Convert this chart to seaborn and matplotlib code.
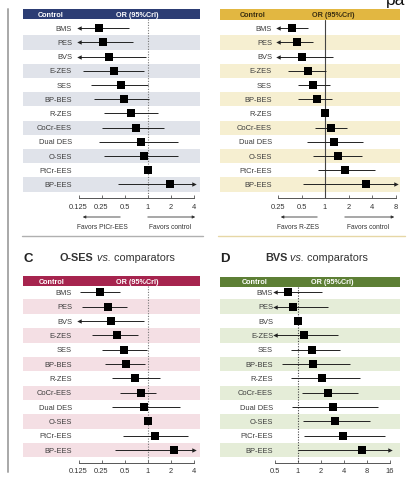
import matplotlib
matplotlib.use("Agg")
import matplotlib.pyplot as plt
import matplotlib.transforms as mtransforms
from matplotlib.patches import FancyArrowPatch
from matplotlib.lines import Line2D
from matplotlib.text import Annotation
from matplotlib.ticker import NullLocator
import numpy as np
import pandas as pd
import seaborn as sns

sns.set_theme(style="white")
plt.rcParams["font.family"] = ["Liberation Sans", "DejaVu Sans"]

# ---- data -------------------------------------------------------------
stents = ["BMS", "PES", "BVS", "E-ZES", "SES", "BP-BES", "R-ZES",
          "CoCr-EES", "Dual DES", "O-SES", "PtCr-EES", "BP-EES"]

# A: PtCr-EES vs. comparators
a_or = [0.23, 0.26, 0.31, 0.36, 0.45, 0.49, 0.61, 0.70, 0.82, 0.90, 1.00, 1.96]
a_lo = [0.10, 0.11, 0.12, 0.145, 0.18, 0.20, 0.27, 0.25, 0.23, 0.27, 1.00, 0.41]
a_hi = [0.57, 0.65, 0.95, 0.90, 1.00, 1.05, 1.36, 1.64, 2.50, 2.50, 1.00, 5.00]

# B: R-ZES vs. comparators
b_or = [0.38, 0.44, 0.51, 0.61, 0.70, 0.79, 1.00, 1.19, 1.30, 1.47, 1.80, 3.35]
b_lo = [0.20, 0.21, 0.22, 0.34, 0.45, 0.45, 1.00, 0.74, 0.59, 0.70, 0.81, 0.52]
b_hi = [0.61, 0.70, 1.27, 1.03, 1.16, 1.23, 1.00, 1.91, 3.07, 2.98, 4.40, 10.0]

# C: O-SES vs. comparators
c_or = [0.24, 0.30, 0.33, 0.40, 0.49, 0.52, 0.69, 0.82, 0.90, 1.00, 1.25, 2.22]
c_lo = [0.13, 0.14, 0.11, 0.19, 0.25, 0.28, 0.34, 0.44, 0.34, 1.00, 0.48, 0.38]
c_hi = [0.44, 0.54, 0.90, 0.75, 0.98, 0.93, 1.46, 1.30, 2.66, 1.00, 3.40, 5.00]

# D: BVS vs. comparators
d_or = [0.74, 0.86, 1.00, 1.20, 1.52, 1.57, 2.06, 2.47, 2.87, 3.05, 3.90, 6.90]
d_lo = [0.40, 0.42, 1.00, 0.45, 0.81, 0.62, 0.81, 1.13, 0.84, 1.16, 1.20, 1.00]
d_hi = [2.06, 2.47, 1.00, 3.30, 3.50, 4.80, 6.50, 6.10, 11.0, 8.80, 13.8, 20.0]

a_ticks = [0.125, 0.25, 0.5, 1, 2, 4]
a_tick_labels = ["0.125", "0.25", "0.5", "1", "2", "4"]
b_ticks = [0.25, 0.5, 1, 2, 4, 8]
b_tick_labels = ["0.25", "0.5", "1", "2", "4", "8"]
d_ticks = [0.5, 1, 2, 4, 8, 16]
d_tick_labels = ["0.5", "1", "2", "4", "8", "16"]

# ---- figure -----------------------------------------------------------
W, H = 411, 481
fig = plt.figure(figsize=(W / 100, H / 100), dpi=100)
fig.patch.set_facecolor("white")


def fx(x):
    return x / W


def fy(y):
    return 1 - y / H


panels = [
    dict(or_=a_or, lo=a_lo, hi=a_hi, ticks=a_ticks, tlabels=a_tick_labels,
         L=23, R=200, y0=29.2, s=14.2, axis_y=199.3, x1=147.5, k=23.0,
         hdr=(10, 20), lab_x=72, ctrl_x=51, or_x=137,
         hdr_color="#2c3d74", hdr_text="white", shade="#e0e3ea",
         ref=dict(ls=(0, (1, 1.4)), color="#777777", lw=0.8),
         favors=("Favors PtCr-EES", 102, (123, 80), (145, 198), 170)),
    dict(or_=b_or, lo=b_lo, hi=b_hi, ticks=b_ticks, tlabels=b_tick_labels,
         L=220, R=400, y0=29.2, s=14.2, axis_y=199.0, x1=325.0, k=23.5,
         hdr=(10, 21), lab_x=272, ctrl_x=253, or_x=333,
         hdr_color="#e2b741", hdr_text="#3a2e10", shade="#f6efd1",
         ref=dict(ls="-", color="#444444", lw=0.8),
         favors=("Favors R-ZES", 298, (320, 278), (342, 397), 368)),
    dict(or_=c_or, lo=c_lo, hi=c_hi, ticks=a_ticks, tlabels=a_tick_labels,
         L=23, R=200, y0=293.3, s=14.35, axis_y=463.5, x1=147.5, k=23.0,
         hdr=(277, 287), lab_x=72, ctrl_x=52, or_x=137,
         hdr_color="#a6244e", hdr_text="white", shade="#f4dfe4",
         ref=dict(ls=(0, (1, 1.4)), color="#777777", lw=0.8),
         favors=None),
    dict(or_=d_or, lo=d_lo, hi=d_hi, ticks=d_ticks, tlabels=d_tick_labels,
         L=220, R=400, y0=293.3, s=14.35, axis_y=463.5, x1=298.0, k=23.0,
         hdr=(278, 288), lab_x=273, ctrl_x=255, or_x=332,
         hdr_color="#5d7f35", hdr_text="white", shade="#e5edd8",
         ref=dict(ls=(0, (1, 1.4)), color="#444444", lw=0.8),
         favors=None),
]

label_fs = 5.4
for p in panels:
    top_px = p["y0"] - 1.5 * p["s"]
    ybot = (p["axis_y"] - p["y0"]) / p["s"]
    ax = fig.add_axes([fx(p["L"]), fy(p["axis_y"]),
                       (p["R"] - p["L"]) / W, (p["axis_y"] - top_px) / H])
    ax.set_facecolor("none")
    ax.set_xscale("log", base=2)
    xmin = 2 ** ((p["L"] - p["x1"]) / p["k"])
    xmax = 2 ** ((p["R"] - p["x1"]) / p["k"])
    lo_lim, hi_lim = p["ticks"][0], p["ticks"][-1]

    # alternating row bands
    for i in range(len(stents)):
        if i % 2 == 1:
            ax.axhspan(i - 0.5, i + 0.5, color=p["shade"], lw=0, zorder=0)

    # header bar
    h0 = (p["hdr"][0] - p["y0"]) / p["s"]
    h1 = (p["hdr"][1] - p["y0"]) / p["s"]
    ax.axhspan(h0, h1, color=p["hdr_color"], lw=0, zorder=1)
    blend = mtransforms.blended_transform_factory(ax.transAxes, ax.transData)
    hmid = (h0 + h1) / 2
    span = p["R"] - p["L"]
    ax.text((p["ctrl_x"] - p["L"]) / span, hmid, "Control", ha="center",
            va="center", fontsize=5.2, weight="bold", color=p["hdr_text"],
            transform=blend)
    ax.text((p["or_x"] - p["L"]) / span, hmid, "OR (95%CrI)", ha="center",
            va="center", fontsize=5.2, weight="bold", color=p["hdr_text"],
            transform=blend)

    # reference line at OR = 1
    ax.plot([1, 1], [h1, ybot], linestyle=p["ref"]["ls"],
            color=p["ref"]["color"], lw=p["ref"]["lw"], zorder=1)

    # credible intervals, with arrowheads where they run past the axis
    for i, (o, lo, hi) in enumerate(zip(p["or_"], p["lo"], p["hi"])):
        if hi <= lo:
            continue
        a, b = max(lo, lo_lim), min(hi, hi_lim)
        ax.plot([a, b], [i, i], color="#222222", lw=0.7, zorder=2,
                solid_capstyle="butt")
        if lo < lo_lim:
            ax.plot([lo_lim], [i], marker="<", ms=3.2, color="#222222",
                    mew=0, zorder=2)
        if hi > hi_lim:
            ax.plot([hi_lim], [i], marker=">", ms=3.2, color="#222222",
                    mew=0, zorder=2)

    # point estimates
    df = pd.DataFrame({"stent": stents, "OR": p["or_"],
                       "row": np.arange(len(stents))})
    sns.scatterplot(data=df, x="OR", y="row", marker="s", s=32,
                    color="black", linewidth=0, ax=ax, legend=False,
                    zorder=3)

    # row labels
    for i, name in enumerate(stents):
        ax.text((p["lab_x"] - p["L"]) / span, i, name, ha="right",
                va="center", fontsize=label_fs, color="#3c3c3c",
                transform=blend)

    ax.set_xlim(xmin, xmax)
    ax.set_ylim(ybot, -1.5)
    ax.set_xlabel("")
    ax.set_ylabel("")
    ax.set_yticks([])
    ax.set_xticks(p["ticks"])
    ax.set_xticklabels(p["tlabels"])
    ax.xaxis.set_minor_locator(NullLocator())
    for side in ("top", "left", "right"):
        ax.spines[side].set_visible(False)
    ax.spines["bottom"].set_bounds(lo_lim, hi_lim)
    ax.spines["bottom"].set_color("#555555")
    ax.spines["bottom"].set_linewidth(0.7)
    ax.tick_params(axis="x", direction="in", length=2.5, width=0.6,
                   color="#555555", labelsize=5.4, labelcolor="#333333",
                   pad=3.5, bottom=True)

    # favours arrows under the axis
    if p["favors"] is not None:
        ftxt, fcx, larr, rarr, rcx = p["favors"]
        ay = 218
        for (x0, x1) in (larr, rarr):
            fig.add_artist(FancyArrowPatch(
                (fx(x0), fy(ay)), (fx(x1), fy(ay)),
                transform=fig.transFigure, arrowstyle="-|>",
                mutation_scale=4, lw=0.6, color="#333333"))
        fig.text(fx(fcx), fy(228), ftxt, ha="center", va="center",
                 fontsize=4.8, color="#333333")
        fig.text(fx(rcx), fy(228), "Favors control", ha="center",
                 va="center", fontsize=4.8, color="#333333")

# panel titles for the lower row: bold stent name, italic "vs."
for letter, lx, name, nx in (("C", 23, "O-SES", 60), ("D", 220, "BVS", 265)):
    fig.text(fx(lx), fy(262), letter, fontsize=9.5, weight="bold",
             color="#222222", va="baseline")
    t1 = fig.text(fx(nx), fy(261.5), name, fontsize=7.8, weight="bold",
                  color="#333333", va="baseline")
    t2 = Annotation(" vs.", xy=(1, 0), xycoords=t1, va="bottom",
                    fontsize=7.8, style="italic", color="#333333")
    fig.add_artist(t2)
    t3 = Annotation(" comparators", xy=(1, 0), xycoords=t2, va="bottom",
                    fontsize=7.8, color="#333333")
    fig.add_artist(t3)

# frame lines around the panels
fig.add_artist(Line2D([fx(8), fx(8)], [fy(10), fy(473)],
                      color="#a8a8a8", lw=1.4))
fig.add_artist(Line2D([fx(22), fx(203)], [fy(237), fy(237)],
                      color="#b0b0b0", lw=1.0))
fig.add_artist(Line2D([fx(218), fx(405)], [fy(237), fy(237)],
                      color="#e6d7a6", lw=1.0))

# heading fragment at the top right
fig.text(fx(386), fy(5), "pa", fontsize=12.5, color="#111111",
         va="baseline")

fig.savefig("out.png", dpi=100)
